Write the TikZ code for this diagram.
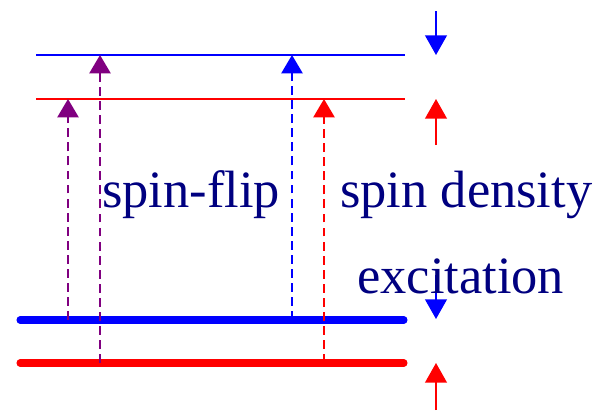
\documentclass[tikz,border=0pt]{standalone}
\usepackage{fontspec}
\setmainfont{Liberation Serif}
\usetikzlibrary{arrows.meta}
\definecolor{myred}{HTML}{FF0000}
\definecolor{myblue}{HTML}{0000FF}
\definecolor{mypurple}{HTML}{800080}
\definecolor{mynavy}{HTML}{000080}
\tikzset{
  thinlevel/.style={line width=1.1pt},
  thicklevel/.style={line width=5pt, line cap=round},
  trans/.style={dash pattern=on 6.3pt off 3.7pt, line width=1.4pt, -{Triangle[length=13pt,width=15pt]}},
  spinarrow/.style={line width=1.3pt, -{Triangle[length=14pt,width=15.5pt]}},
  lbl/.style={text=mynavy, font=\fontsize{37.3}{44}\selectfont, inner sep=0pt, anchor=base west}
}
\begin{document}
\begin{tikzpicture}[x=0.025cm, y=-0.025cm]
\useasboundingbox (0,0) rectangle (600,410);
% level end points
\coordinate (tbL) at (36,55);  \coordinate (tbR) at (405,55);
\coordinate (trL) at (36,99);  \coordinate (trR) at (405,99);
\coordinate (bbL) at (20,320); \coordinate (bbR) at (404,320);
\coordinate (brL) at (20,363); \coordinate (brR) at (404,363);
\draw[thinlevel, myblue] (tbL) -- (tbR);
\draw[thinlevel, myred] (trL) -- (trR);
\draw[thicklevel, myblue] (bbL) -- (bbR);
\draw[thicklevel, myred] (brL) -- (brR);
% transitions
\coordinate (p1s) at (68,320);  \coordinate (p1e) at (68,99);
\coordinate (p2s) at (100,363); \coordinate (p2e) at (100,55);
\coordinate (b1s) at (292,320); \coordinate (b1e) at (292,55);
\coordinate (r1s) at (324,363); \coordinate (r1e) at (324,99);
\draw[trans, mypurple] (p1s) -- (p1e);
\draw[trans, mypurple] (p2s) -- (p2e);
\draw[trans, myblue] (b1s) -- (b1e);
\draw[trans, myred] (r1s) -- (r1e);
% spin arrows
\coordinate (s1a) at (436,11);  \coordinate (s1b) at (436,55);
\coordinate (s2a) at (436,145); \coordinate (s2b) at (436,99);
\coordinate (s3a) at (436,275); \coordinate (s3b) at (436,319);
\coordinate (s4a) at (436,410); \coordinate (s4b) at (436,363);
\draw[spinarrow, myblue] (s1a) -- (s1b);
\draw[spinarrow, myred] (s2a) -- (s2b);
\draw[spinarrow, myblue] (s3a) -- (s3b);
\draw[spinarrow, myred] (s4a) -- (s4b);
% labels
\node[lbl] (flip) at (102,207) {spin-flip};
\node[lbl] (dens) at (340,207) {spin density};
\node[lbl] (exc) at (357,293) {excitation};
\end{tikzpicture}
\end{document}
